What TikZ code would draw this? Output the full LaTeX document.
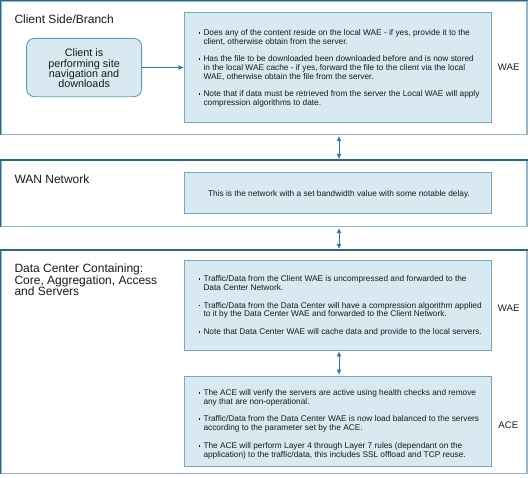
\documentclass[tikz,border=0pt]{standalone}
\usepackage{fontspec}
\setmainfont{Liberation Sans}
\usetikzlibrary{arrows.meta}
\definecolor{outerdark}{HTML}{2A6887}
\definecolor{outerlight}{HTML}{8FB9CD}
\definecolor{boxfill}{HTML}{D8E9F1}
\definecolor{boxline}{HTML}{74A8C4}
\definecolor{clientline}{HTML}{5C9BBE}
\definecolor{arrowc}{HTML}{2B78A3}
\definecolor{txt}{HTML}{1A1A1A}
\newcommand\bul{\raisebox{0.22em}{\rule{1.7pt}{1.7pt}}}
\tikzset{
  outerbox/.style={draw=outerlight, line width=1.1pt, fill=white, inner sep=0pt},
  outeredge/.style={draw=outerdark, line width=1.1pt},
  innerbox/.style={draw=boxline, line width=0.8pt, fill=boxfill, inner sep=0pt},
  clientbox/.style={draw=clientline, line width=0.9pt, fill=boxfill, rounded corners=8pt, inner sep=0pt},
  bodytext/.style={anchor=west, inner sep=0pt, text=txt, font=\fontsize{8.3}{8.7}\selectfont},
  titletext/.style={anchor=base west, inner sep=0pt, text=txt, align=left, font=\fontsize{12}{11.5}\selectfont},
  sidelabel/.style={inner sep=0pt, text=txt, font=\fontsize{9.6}{11}\selectfont},
  conn/.style={draw=arrowc, line width=0.8pt, -{Latex[length=5pt,width=5pt]}},
  dconn/.style={draw=arrowc, line width=0.8pt, {Latex[length=5pt,width=5pt]}-{Latex[length=5pt,width=5pt]}, shorten >=1pt, shorten <=1pt}
}
\begin{document}
\begin{tikzpicture}[x=1pt,y=-1pt]
\useasboundingbox (0,0) rectangle (530,477);
% outer boxes
\node[outerbox, minimum width=526pt, minimum height=133.5pt] (o1) at (264,67.75) {};
\node[outerbox, minimum width=526pt, minimum height=66pt] (o2) at (264,193.5) {};
\node[outerbox, minimum width=526pt, minimum height=223pt] (o3) at (264,362) {};
\foreach \o in {o1,o2,o3}{
  \draw[outeredge] (\o.south west) -- (\o.north west) -- (\o.north east);
}
% titles
\node[titletext] (t1) at (14.3,23.7) {Client Side/Branch};
\node[titletext] (t2) at (14.3,183.2) {WAN Network};
\node[titletext] (t3) at (14.3,295.7) {Data Center Containing:\\Core, Aggregation, Access\\and Servers};
% client box
\node[clientbox, minimum width=115pt, minimum height=58.4pt] (client) at (84.1,67.5) {};
\node[inner sep=0pt, text=txt, align=center, font=\fontsize{10.8}{10.2}\selectfont] (ctext) at (84.1,68.4) {Client is\\performing site\\navigation and\\downloads};
% inner boxes
\node[innerbox, minimum width=307.5pt, minimum height=110.4pt] (in1) at (337.75,67.5) {};
\node[innerbox, minimum width=307.5pt, minimum height=40.7pt] (wan) at (337.75,193) {};
\node[innerbox, minimum width=307.5pt, minimum height=90pt] (dcw) at (337.75,305) {};
\node[innerbox, minimum width=307.5pt, minimum height=90.5pt] (ace) at (337.75,421.25) {};
% texts
\node[bodytext] (x1) at (198.3,68.8) {\begin{tabular}{@{}l@{\hspace{3.3pt}}l@{}}
\bul & Does any of the content reside on the local WAE - if yes, provide it to the\\
 & client, otherwise obtain from the server.\\[9pt]
\bul & Has the file to be downloaded been downloaded before and is now stored\\
 & in the local WAE cache - if yes, forward the file to the client via the local\\
 & WAE, otherwise obtain the file from the server.\\[9pt]
\bul & Note that if data must be retrieved from the server the Local WAE will apply\\
 & compression algorithms to date.
\end{tabular}};
\node[inner sep=0pt, text=txt, font=\fontsize{8.3}{8.7}\selectfont] (x2) at (339,194.5) {This is the network with a set bandwidth value with some notable delay.};
\node[bodytext] (x3) at (198.3,306.5) {\begin{tabular}{@{}l@{\hspace{3.3pt}}l@{}}
\bul & Traffic/Data from the Client WAE is uncompressed and forwarded to the\\
 & Data Center Network.\\[9pt]
\bul & Traffic/Data from the Data Center will have a compression algorithm applied\\
 & to it by the Data Center WAE and forwarded to the Client Network.\\[9pt]
\bul & Note that Data Center WAE will cache data and provide to the local servers.
\end{tabular}};
\node[bodytext] (x4) at (198.3,424.6) {\begin{tabular}{@{}l@{\hspace{3.3pt}}l@{}}
\bul & The ACE will verify the servers are active using health checks and remove\\
 & any that are non-operational.\\[9pt]
\bul & Traffic/Data from the Data Center WAE is now load balanced to the servers\\
 & according to the parameter set by the ACE.\\[9pt]
\bul & The ACE will perform Layer 4 through Layer 7 rules (dependant on the\\
 & application) to the traffic/data, this includes SSL offload and TCP reuse.
\end{tabular}};
% side labels
\node[sidelabel] (l1) at (508.7,67.5) {WAE};
\node[sidelabel] (l2) at (508.7,308.5) {WAE};
\node[sidelabel] (l3) at (508.3,425.5) {ACE};
% connectors
\draw[conn] (client.east) -- (client.east -| in1.west);
\draw[dconn] (o1.south -| 339,0) -- (o2.north -| 339,0);
\draw[dconn] (o2.south -| 339,0) -- (o3.north -| 339,0);
\draw[dconn] (dcw.south -| 339,0) -- (ace.north -| 339,0);
\end{tikzpicture}
\end{document}
